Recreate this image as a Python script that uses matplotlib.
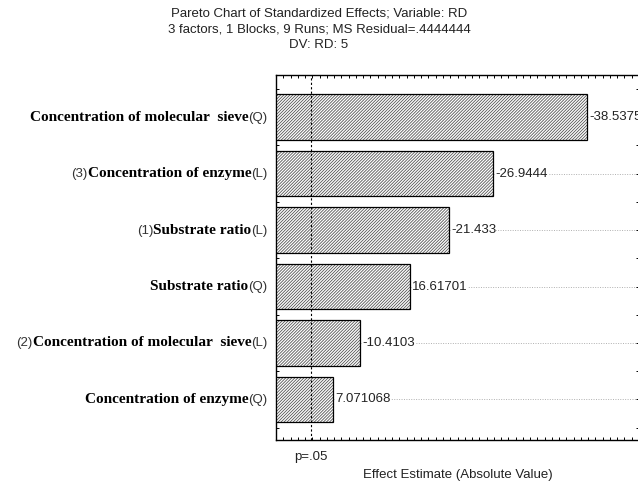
import numpy as np
import matplotlib
matplotlib.use("Agg")
import matplotlib.pyplot as plt
from matplotlib.offsetbox import TextArea, HPacker, AnnotationBbox

# Pareto chart data, top bar first
prefixes = ["", "(3)", "(1)", "", "(2)", ""]
factors = ["Concentration of molecular  sieve", "Concentration of enzyme", "Substrate ratio",
           "Substrate ratio", "Concentration of molecular  sieve", "Concentration of enzyme"]
suffixes = ["(Q)", "(L)", "(L)", "(Q)", "(L)", "(Q)"]
effects = [-38.5375, -26.9444, -21.433, 16.61701, -10.4103, 7.071068]
effect_labels = ["-38.5375", "-26.9444", "-21.433", "16.61701", "-10.4103", "7.071068"]
p_crit = 4.302653  # t(0.975, df=2)

plt.rcParams['hatch.linewidth'] = 0.6
sans = "Liberation Sans"
serif = "Liberation Serif"

fig = plt.figure(figsize=(6.38, 4.84), dpi=100)
ax = fig.add_axes([276 / 638, 1 - 440 / 484, 363 / 638, 365.3 / 484])

ypos = np.arange(len(effects))
vals = np.abs(effects)
# grey hatch fill, then a black outline on top
ax.barh(ypos, vals, height=0.81, color="white", edgecolor="#555555", linewidth=0,
        hatch="/" * 11, zorder=3)
ax.barh(ypos, vals, height=0.81, fill=False, edgecolor="black", linewidth=0.9, zorder=3.5)

ax.set_xlim(0, 45)
ax.set_ylim(5.717, -0.749)

# dotted guide lines from each bar end to the right border
for y, v, lab in zip(ypos, vals, effect_labels):
    ax.hlines(y, v, 45, colors="#b0b0b0", linestyles=(0, (1, 1.5)), linewidth=0.7, zorder=1)
    ax.annotate(lab, (v, y), xytext=(1.5, 0), textcoords="offset points",
                ha="left", va="center", fontsize=9.5, family=sans, color="#222222",
                bbox=dict(facecolor="white", edgecolor="none", pad=0.3), zorder=4)

ax.axvline(p_crit, color="black", linestyle=(0, (2, 2)), linewidth=0.8, zorder=5)

# ticks
ax.set_xticks(np.arange(0, 45.01, 0.9))
ax.set_yticks(np.arange(-0.5, 5.6, 0.5))
ax.tick_params(direction="in", length=2.5, width=0.7, top=True, right=True,
               labelbottom=False, labelleft=False)
for s in ax.spines.values():
    s.set_linewidth(1.0)

# factor names with mixed fonts
for y, pre, name, suf in zip(ypos, prefixes, factors, suffixes):
    parts = []
    if pre:
        parts.append(TextArea(pre, textprops=dict(family=sans, fontsize=9.5, color="#333333")))
    parts.append(TextArea(name, textprops=dict(family=serif, fontsize=11, weight="bold")))
    parts.append(TextArea(suf, textprops=dict(family=sans, fontsize=9.5, color="#333333")))
    box = HPacker(children=parts, align="baseline", pad=0, sep=0)
    ab = AnnotationBbox(box, (0, y), xybox=(-6, 0), xycoords="data",
                        boxcoords="offset points", box_alignment=(1, 0.5),
                        frameon=False, annotation_clip=False)
    ax.add_artist(ab)

ax.text(p_crit, -0.03, "p=.05", transform=ax.get_xaxis_transform(), ha="center", va="top",
        fontsize=9.5, family=sans, color="#222222")
ax.set_xlabel("Effect Estimate (Absolute Value)", fontsize=9.5, family=sans,
              color="#222222", labelpad=21)

fig.text(0.5, 1 - 29 / 484, "Pareto Chart of Standardized Effects; Variable: RD\n"
         "3 factors, 1 Blocks, 9 Runs; MS Residual=.4444444\nDV: RD: 5",
         ha="center", va="center", fontsize=9.5, family=sans, color="#222222",
         linespacing=1.4)

fig.savefig("out.png", dpi=100)
